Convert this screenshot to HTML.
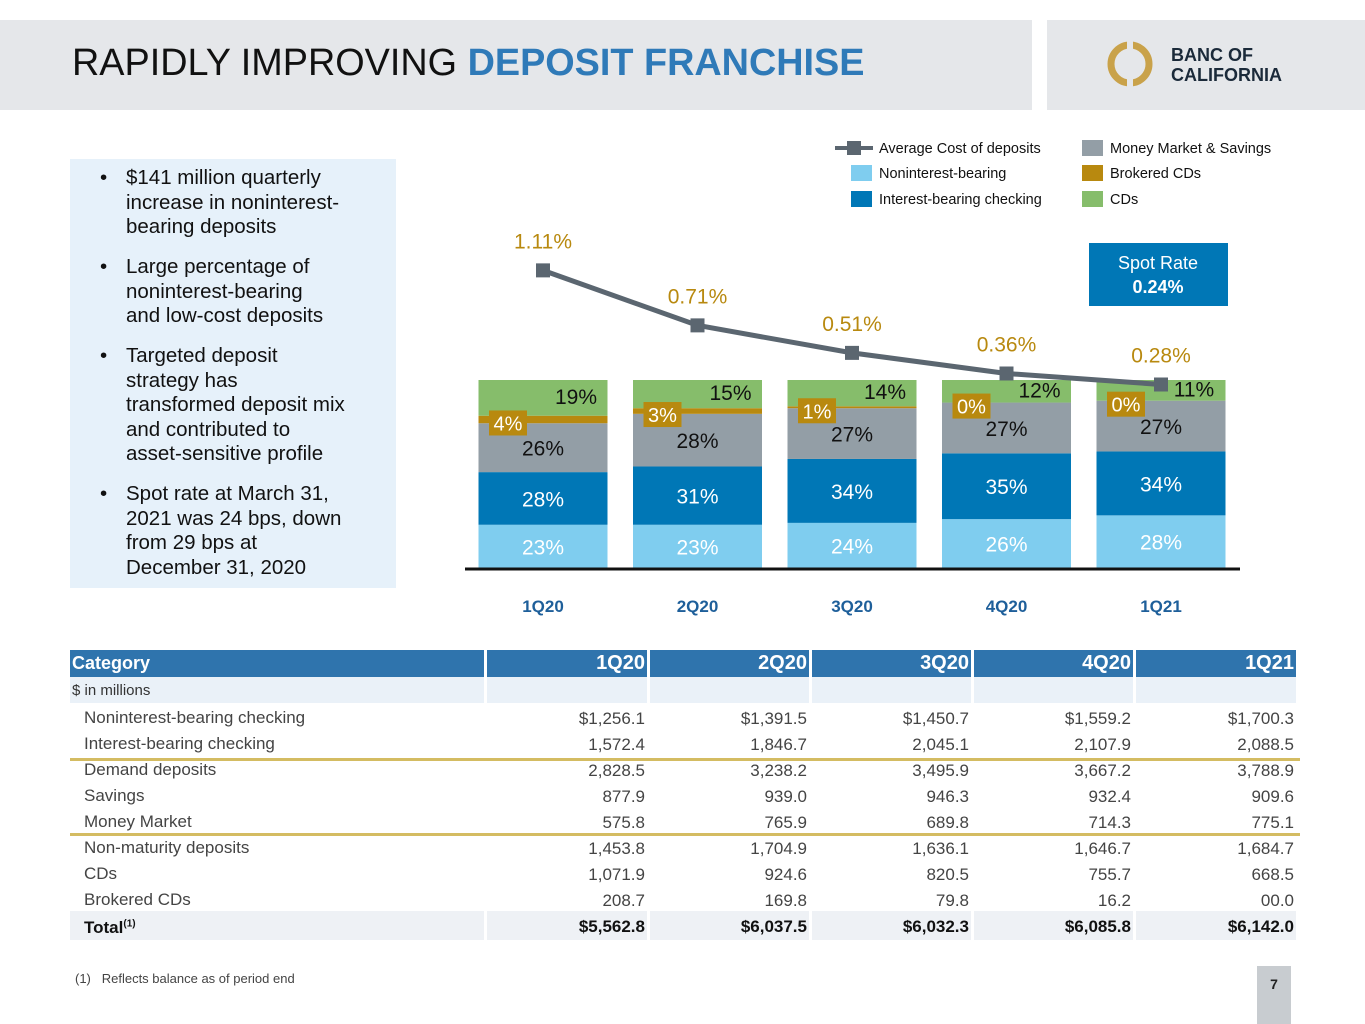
<!DOCTYPE html>
<html><head><meta charset="utf-8"><style>
*{margin:0;padding:0;box-sizing:border-box}
body{width:1365px;height:1024px;background:#fff;position:relative;overflow:hidden;font-family:"Liberation Sans",sans-serif;color:#222}
.abs{position:absolute}
.hdr{left:0;top:20px;width:1032px;height:90px;background:#e5e7ea}
.hdr2{left:1047px;top:20px;width:318px;height:90px;background:#e5e7ea}
.title{left:72px;top:42px;font-size:37.8px;color:#111;white-space:nowrap}
.title b{color:#2f7ab8;font-weight:bold}
.logo-text{left:1171px;top:45px;font-size:18px;font-weight:bold;color:#1b2a3a;line-height:20px}
.box{left:70px;top:159px;width:326px;height:429px;background:#e6f1fa}
.box ul{list-style:none;padding:7px 0 0 30px}
.box li{position:relative;padding-left:26px;font-size:20.5px;line-height:24.5px;margin-bottom:15.5px;color:#111;white-space:nowrap}
.box li:before{content:"•";position:absolute;left:0}
table{position:absolute;left:70px;top:650px;border-collapse:separate;border-spacing:3px 0;margin-left:-3px;font-size:17px}
td{height:26px;padding:0 2px;color:#444;white-space:nowrap}
td.n{text-align:right;padding-top:6px}
td.l{padding-left:14px;padding-top:3px}
tr.h td{background:#2f74ad;color:#fff;font-weight:bold;height:27px;font-size:20px;text-align:right}
tr.h td:first-child{text-align:left;font-size:18px}
tr.m td{background:#eaf1f8;height:26px;font-size:15px;color:#333}
tr.t td{background:#eef1f5;height:29px;font-weight:bold;color:#111}
</style></head><body>
<div class="abs hdr"></div>
<div class="abs hdr2"></div>
<div class="abs title">RAPIDLY IMPROVING <b>DEPOSIT FRANCHISE</b></div>
<svg class="abs" style="left:1104px;top:38px" width="52" height="52">
<circle cx="26" cy="26" r="19" fill="none" stroke="#c9a24a" stroke-width="7"/>
<rect x="23" y="0" width="6" height="52" fill="#e5e7ea"/></svg>
<div class="abs logo-text">BANC OF<br>CALIFORNIA</div>

<div class="abs box"><ul>
<li>$141 million quarterly<br>increase in noninterest-<br>bearing deposits</li>
<li>Large percentage of<br>noninterest-bearing<br>and low-cost deposits</li>
<li>Targeted deposit<br>strategy has<br>transformed deposit mix<br>and contributed to<br>asset-sensitive profile</li>
<li>Spot rate at March 31,<br>2021 was 24 bps, down<br>from 29 bps at<br>December 31, 2020</li>
</ul></div>

<svg id="chart" class="abs" style="left:0;top:0" width="1365" height="640"></svg>

<table>
<tr class="h"><td style="width:414px">Category</td><td style="width:160px">1Q20</td><td style="width:159px">2Q20</td><td style="width:159px">3Q20</td><td style="width:159px">4Q20</td><td style="width:160px">1Q21</td></tr>
<tr class="m"><td>$ in millions</td><td></td><td></td><td></td><td></td><td></td></tr>
<tr><td class="l">Noninterest-bearing checking</td><td class="n">$1,256.1</td><td class="n">$1,391.5</td><td class="n">$1,450.7</td><td class="n">$1,559.2</td><td class="n">$1,700.3</td></tr>
<tr><td class="l">Interest-bearing checking</td><td class="n">1,572.4</td><td class="n">1,846.7</td><td class="n">2,045.1</td><td class="n">2,107.9</td><td class="n">2,088.5</td></tr>
<tr><td class="l">Demand deposits</td><td class="n">2,828.5</td><td class="n">3,238.2</td><td class="n">3,495.9</td><td class="n">3,667.2</td><td class="n">3,788.9</td></tr>
<tr><td class="l">Savings</td><td class="n">877.9</td><td class="n">939.0</td><td class="n">946.3</td><td class="n">932.4</td><td class="n">909.6</td></tr>
<tr><td class="l">Money Market</td><td class="n">575.8</td><td class="n">765.9</td><td class="n">689.8</td><td class="n">714.3</td><td class="n">775.1</td></tr>
<tr><td class="l">Non-maturity deposits</td><td class="n">1,453.8</td><td class="n">1,704.9</td><td class="n">1,636.1</td><td class="n">1,646.7</td><td class="n">1,684.7</td></tr>
<tr><td class="l">CDs</td><td class="n">1,071.9</td><td class="n">924.6</td><td class="n">820.5</td><td class="n">755.7</td><td class="n">668.5</td></tr>
<tr><td class="l">Brokered CDs</td><td class="n">208.7</td><td class="n">169.8</td><td class="n">79.8</td><td class="n">16.2</td><td class="n">00.0</td></tr>
<tr class="t"><td class="l" style="padding-top:4px">Total<sup style="font-size:10px">(1)</sup></td><td class="n" style="padding-top:2px">$5,562.8</td><td class="n" style="padding-top:2px">$6,037.5</td><td class="n" style="padding-top:2px">$6,032.3</td><td class="n" style="padding-top:2px">$6,085.8</td><td class="n" style="padding-top:2px">$6,142.0</td></tr>
</table>
<div class="abs" style="left:70px;top:758px;width:1230px;height:3px;background:#d4bc62"></div>
<div class="abs" style="left:70px;top:833px;width:1230px;height:3px;background:#d4bc62"></div>
<div class="abs" style="left:75px;top:971px;font-size:13px;color:#444">(1)&nbsp;&nbsp; Reflects balance as of period end</div>
<div class="abs" style="left:1257px;top:966px;width:34px;height:58px;background:#c8ccd0;font-size:14px;font-weight:bold;text-align:center;padding-top:10px">7</div>

<script>
const categories=["1Q20","2Q20","3Q20","4Q20","1Q21"];
const nonInterest=[23,23,24,26,28];
const interestChecking=[28,31,34,35,34];
const moneyMarket=[26,28,27,27,27];
const brokered=[4,3,1,0,0];
const cds=[19,15,14,12,11];
const avgCost=[1.11,0.71,0.51,0.36,0.28];
const NS="http://www.w3.org/2000/svg";
const svg=document.getElementById('chart');
function mk(t,a,txt){const e=document.createElementNS(NS,t);for(const k in a)e.setAttribute(k,a[k]);if(txt!==undefined)e.textContent=txt;svg.appendChild(e);return e;}
const base=568,H=188,bw=129;
const xC=i=>543+i*154.5;
const yP=p=>base-p/100*H;
const yR=v=>423-v*137.5;
const series=[{d:nonInterest,c:"#7fcdef",t:"#fff",n:"noninterest"},{d:interestChecking,c:"#0077b6",t:"#fff",n:"interest-checking"},{d:moneyMarket,c:"#939ea6",t:"#111",n:"money-market"},{d:brokered,c:"#b8890f",t:"#fff",n:"brokered-cds"},{d:cds,c:"#86bd6b",t:"#111",n:"cds"}];
const labels=[];
categories.forEach((cat,i)=>{
  let cum=0;const x=xC(i)-bw/2;
  series.forEach((s,si)=>{
    const v=s.d[i];const y0=yP(cum),y1=yP(cum+v);
    const r=mk('rect',{x:x,y:y1,width:bw,height:Math.max(y0-y1,0),fill:s.c});
    
    
    labels.push({i:i,si:si,v:v,y0:y0,y1:y1,s:s});
    cum+=v;
  });
  const xl=mk('text',{x:xC(i),y:612,'font-size':17,'font-weight':'bold',fill:"#1e5f9a",'text-anchor':'middle'},cat);
  
  
});
labels.forEach(L=>{
  const i=L.i,si=L.si,v=L.v,y0=L.y0,y1=L.y1,s=L.s;
  if(si===3){
    const bx=xC(i)-54,by=(y0+y1)/2-9;
    const b=mk('rect',{x:bx,y:by,width:38,height:25,fill:"#b8890f"});
    
    
    const t=mk('text',{x:bx+19,y:by+20,'font-size':20,fill:"#fff",'text-anchor':'middle'},v+"%");
    
    
  }else{
    const lx=si===4?xC(i)+33:xC(i);
    const t=mk('text',{x:lx,y:(y0+y1)/2+8+(si===4?-2:0),'font-size':21,fill:s.t,'text-anchor':'middle'},v+"%");
    
    
  }
});
const ax=mk('line',{x1:465,y1:569,x2:1240,y2:569,stroke:"#111","stroke-width":3});


const pl=mk('polyline',{points:avgCost.map((v,i)=>xC(i)+","+yR(v)).join(" "),fill:"none",stroke:"#5b6670","stroke-width":5});


avgCost.forEach((v,i)=>{
  const m=mk('rect',{x:xC(i)-7,y:yR(v)-7,width:14,height:14,fill:"#5b6670"});
  
  
  const t=mk('text',{x:xC(i),y:yR(v)-22,'font-size':21,fill:"#b8890f",'text-anchor':'middle'},v.toFixed(2)+"%");
  
  
});
const leg=[["line",835,148,"Average Cost of deposits","#5b6670"],["#7fcdef",851,173,"Noninterest-bearing"],["#0077b6",851,199,"Interest-bearing checking"],["#939ea6",1082,148,"Money Market & Savings"],["#b8890f",1082,173,"Brokered CDs"],["#86bd6b",1082,199,"CDs"]];
leg.forEach(l=>{
  if(l[0]==="line"){
    const a=mk('line',{x1:835,y1:148,x2:873,y2:148,stroke:"#5b6670","stroke-width":4});
    
    
    const b=mk('rect',{x:847,y:141,width:14,height:14,fill:"#5b6670"});
    
    
  }else{
    const r=mk('rect',{x:l[1],y:l[2]-8,width:21,height:16,fill:l[0]});
    
    
  }
  const tx=(l[0]==="line"?879:l[1]+28);
  const t=mk('text',{x:tx,y:l[2]+5,'font-size':14.5,fill:"#111"},l[3]);
  
  
});
const sb=mk('rect',{x:1089,y:243,width:139,height:63,fill:"#0077b6"});


const s1=mk('text',{x:1158,y:269,'font-size':18,fill:"#fff",'text-anchor':'middle'},"Spot Rate");


const s2=mk('text',{x:1158,y:293,'font-size':18,'font-weight':'bold',fill:"#fff",'text-anchor':'middle'},"0.24%");


</script>
</body></html>
